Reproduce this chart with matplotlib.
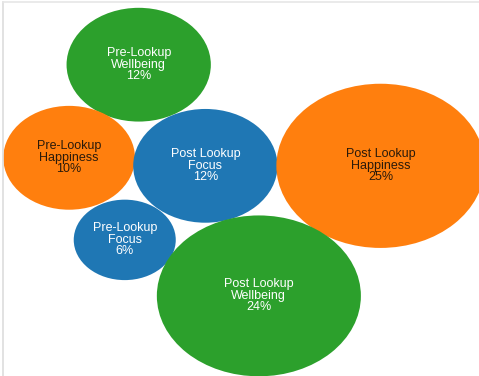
import matplotlib
matplotlib.use("Agg")
import matplotlib.pyplot as plt
from matplotlib.patches import Circle
from matplotlib.lines import Line2D
import numpy as np

# bubble data
labels = ["Pre-Lookup\nWellbeing", "Pre-Lookup\nHappiness", "Post Lookup\nFocus",
          "Post Lookup\nHappiness", "Pre-Lookup\nFocus", "Post Lookup\nWellbeing"]
values = [12, 10, 12, 25, 6, 24]
colors = ["#2ca02c", "#ff7f0e", "#1f77b4", "#ff7f0e", "#1f77b4", "#2ca02c"]
text_colors = ["white", "#2a1a0a", "white", "#2a1a0a", "white", "white"]

# packed layout (bubble centres, data units)
centers = [(6.66, 18.96), (3.32, 13.29), (9.86, 12.80),
           (18.27, 12.80), (5.99, 8.29), (12.43, 4.88)]

fig = plt.figure(figsize=(4.79, 3.76), dpi=100)
ax = fig.add_axes([0, 0, 1, 1])
ax.set_xlim(0, 23.0)
ax.set_ylim(0, 22.9)
ax.axis("off")

for lab, v, c, tc, (cx, cy) in zip(labels, values, colors, text_colors, centers):
    r = np.sqrt(v)  # radius ~ sqrt(value) so area ~ value
    ax.add_patch(Circle((cx, cy), r, facecolor=c, edgecolor="none"))
    ax.text(cx, cy, f"{lab}\n{v}%", ha="center", va="center", color=tc,
            fontsize=9, linespacing=0.95, family="Liberation Sans")

# faint frame lines
fig.add_artist(Line2D([0.007, 0.007], [0, 0.995], color="#dddddd", lw=1.2))
fig.add_artist(Line2D([0.007, 1], [0.995, 0.995], color="#e6e6e6", lw=1.2))

fig.savefig("out.png", dpi=100)
